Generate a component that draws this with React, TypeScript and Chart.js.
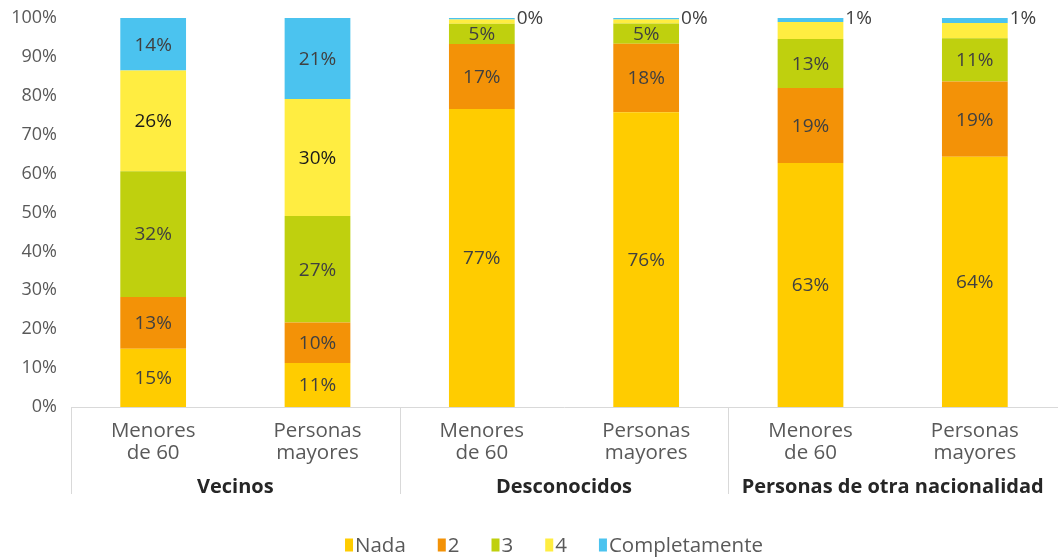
import React, { useEffect, useRef } from "react";
import { Chart, registerables } from "chart.js";

Chart.register(...registerables);

const categories: string[][] = [
  ["Menores", "de 60"],
  ["Personas", "mayores"],
  ["Menores", "de 60"],
  ["Personas", "mayores"],
  ["Menores", "de 60"],
  ["Personas", "mayores"],
];
const groups = ["Vecinos", "Desconocidos", "Personas de otra nacionalidad"];
const seriesNames = ["Nada", "2", "3", "4", "Completamente"];

const nada = [15.0, 11.3, 76.6, 75.8, 62.7, 64.3];
const dos = [13.3, 10.4, 16.7, 17.6, 19.3, 19.4];
const tres = [32.3, 27.4, 5.2, 5.2, 12.6, 11.1];
const cuatro = [25.9, 30.1, 1.1, 1.0, 4.4, 3.9];
const completamente = [13.5, 20.8, 0.4, 0.4, 1.0, 1.3];

const seriesColors = ["#FFCC00", "#F39207", "#BFD00E", "#FFED41", "#4BC3EF"];
const labelColors = ["#404040", "#404040", "#404040", "#1a1a1a", "#404040"];

const FONT = "'Open Sans', sans-serif";

const overlayPlugin = {
  id: "overlay",
  afterDatasetsDraw(chart: any) {
    const ctx = chart.ctx;
    ctx.save();
    ctx.font = `19px ${FONT}`;
    chart.data.datasets.forEach((ds: any, di: number) => {
      const meta = chart.getDatasetMeta(di);
      meta.data.forEach((bar: any, i: number) => {
        const v = ds.data[i] as number;
        const txt = Math.round(v) + "%";
        const p = bar.getProps(["x", "y", "base", "width"], true);
        ctx.fillStyle = labelColors[di];
        if (v >= 5) {
          ctx.textAlign = "center";
          ctx.textBaseline = "middle";
          ctx.fillText(txt, p.x, (p.y + p.base) / 2 + 1);
        } else if (di === 4) {
          ctx.textAlign = "left";
          ctx.textBaseline = "middle";
          ctx.fillStyle = "#404040";
          ctx.fillText(txt, p.x + p.width / 2 + 2, p.y + 1);
        }
      });
    });
    ctx.restore();
  },
  afterDraw(chart: any) {
    const ctx = chart.ctx;
    const xs = chart.scales.x;
    const area = chart.chartArea;
    ctx.save();
    // group separators
    ctx.strokeStyle = "#D9D9D9";
    ctx.lineWidth = 1;
    const seps = [area.left, (xs.getPixelForTick(1) + xs.getPixelForTick(2)) / 2, (xs.getPixelForTick(3) + xs.getPixelForTick(4)) / 2];
    seps.forEach((sx) => {
      const px = Math.round(sx) + 0.5;
      ctx.beginPath();
      ctx.moveTo(px, area.bottom);
      ctx.lineTo(px, 494);
      ctx.stroke();
    });
    // group labels
    ctx.font = `bold 20px ${FONT}`;
    ctx.fillStyle = "#262626";
    ctx.textAlign = "center";
    ctx.textBaseline = "middle";
    groups.forEach((g, gi) => {
      const cx = (xs.getPixelForTick(gi * 2) + xs.getPixelForTick(gi * 2 + 1)) / 2;
      ctx.fillText(g, cx, 487);
    });
    // legend
    ctx.font = `20.5px ${FONT}`;
    const boxW = 8;
    const boxH = 13;
    const gap = 2;
    const spacing = 32;
    const widths = seriesNames.map((n) => ctx.measureText(n).width);
    const total = widths.reduce((a, w) => a + boxW + gap + w, 0) + spacing * (seriesNames.length - 1);
    let lx = 554 - total / 2;
    const ly = 545;
    ctx.textAlign = "left";
    ctx.textBaseline = "middle";
    seriesNames.forEach((n, i) => {
      ctx.fillStyle = seriesColors[i];
      ctx.fillRect(lx, ly - boxH / 2, boxW, boxH);
      ctx.fillStyle = "#595959";
      ctx.fillText(n, lx + boxW + gap, ly + 1);
      lx += boxW + gap + widths[i] + spacing;
    });
    ctx.restore();
  },
};

export default function App() {
  const ref = useRef<HTMLCanvasElement | null>(null);
  useEffect(() => {
    if (!ref.current) return;
    const series = [nada, dos, tres, cuatro, completamente];
    const chart = new Chart(ref.current, {
      type: "bar",
      data: {
        labels: categories,
        datasets: series.map((d, i) => ({
          label: seriesNames[i],
          data: d,
          backgroundColor: seriesColors[i],
          borderWidth: 0,
          barPercentage: 0.8,
          categoryPercentage: 0.5,
        })),
      },
      options: {
        responsive: false,
        animation: false,
        layout: { padding: { top: 18, right: 1, left: 0, bottom: 0 } },
        plugins: {
          legend: { display: false },
          tooltip: { enabled: false },
        },
        scales: {
          x: {
            stacked: true,
            grid: { display: false },
            border: { display: true, color: "#D9D9D9", width: 1 },
            ticks: {
              color: "#595959",
              font: { family: FONT, size: 20.5, lineHeight: 1.03 },
              padding: 6,
              maxRotation: 0,
              autoSkip: false,
            },
            afterFit: (s: any) => {
              s.height = 152;
              s.paddingLeft = 0;
              s.paddingRight = 0;
            },
          },
          y: {
            stacked: true,
            min: 0,
            max: 100,
            grid: { display: false, drawTicks: false },
            border: { display: false },
            ticks: {
              stepSize: 10,
              color: "#595959",
              font: { family: FONT, size: 18 },
              padding: 14,
              callback: (v: any) => v + "%",
            },
            afterFit: (s: any) => {
              s.width = 71;
              s.paddingTop = 0;
              s.paddingBottom = 0;
            },
          },
        },
      },
      plugins: [overlayPlugin],
    });
    return () => chart.destroy();
  }, []);
  return (
    <div style={{ position: "fixed", left: 0, top: 0, width: 1058, height: 559, background: "#fff" }}>
      <canvas ref={ref} width={1058} height={559} />
    </div>
  );
}
